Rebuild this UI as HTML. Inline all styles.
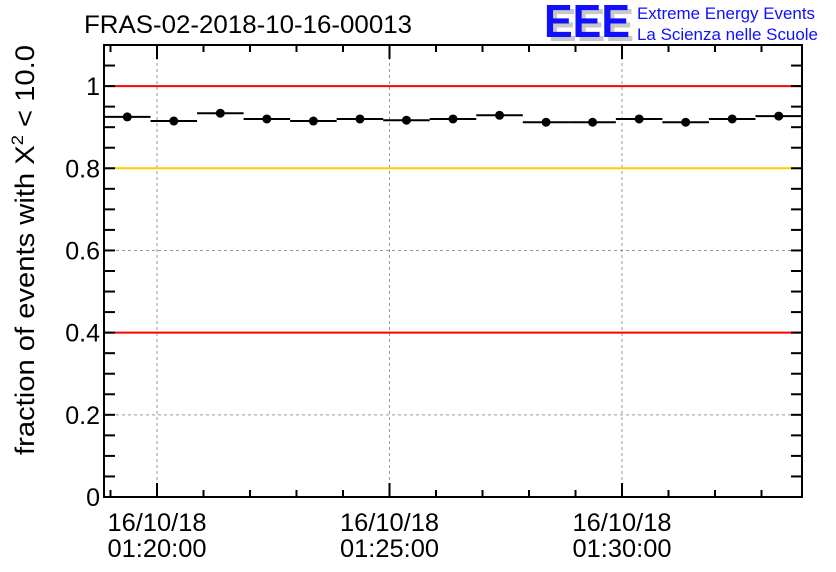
<!DOCTYPE html>
<html><head><meta charset="utf-8"><style>
body{margin:0;background:#fff}
svg{display:block;font-family:"Liberation Sans",sans-serif}
</style></head><body>
<svg id="chart" width="836" height="572" xmlns="http://www.w3.org/2000/svg">
<text x="84" y="33" font-size="25" textLength="328" lengthAdjust="spacingAndGlyphs">FRAS-02-2018-10-16-00013</text>
<g>
<text x="548" y="41" font-size="46" font-weight="bold" fill="#c8c8c8" textLength="86" lengthAdjust="spacingAndGlyphs">EEE</text>
<text x="544" y="37" font-size="46" font-weight="bold" fill="#1010ff" textLength="86" lengthAdjust="spacingAndGlyphs">EEE</text>
<text x="637" y="19" font-size="17" fill="#1010ff" textLength="178" lengthAdjust="spacingAndGlyphs">Extreme Energy Events</text>
<text x="637" y="40" font-size="17" fill="#1010ff" textLength="181" lengthAdjust="spacingAndGlyphs">La Scienza nelle Scuole</text>
</g>
<text transform="translate(34,250) rotate(-90)" text-anchor="middle" font-size="27" textLength="410" lengthAdjust="spacingAndGlyphs">fraction of events with X<tspan font-size="17" dy="-11">2</tspan><tspan dy="11"> &lt; 10.0</tspan></text>
<g id="grid"></g><g id="refs"></g><g id="marks"></g><g id="axes"></g>
</svg>
<script>
const values=[0.925,0.915,0.934,0.92,0.915,0.92,0.917,0.92,0.929,0.912,0.912,0.92,0.912,0.92,0.927];
const refLines=[1.0,0.8,0.4];
const refColors=['#ff0000','#ffcc00','#ff0000'];
const yTicks=[0,0.2,0.4,0.6,0.8,1];
const yTickLabels=['0','0.2','0.4','0.6','0.8','1'];
const xMajorMin=[1,6,11];
const xDateLabels=['16/10/18','16/10/18','16/10/18'];
const xTimeLabels=['01:20:00','01:25:00','01:30:00'];
const L=104,R=802,T=45,B=497,YMAX=1.1;
const pxPerMin=46.5;
function y(v){return B-(v/YMAX)*(B-T);}
const off=(157-L)/pxPerMin;
const NS='http://www.w3.org/2000/svg';
function mk(tag,attrs,parent){const e=document.createElementNS(NS,tag);for(const k in attrs)e.setAttribute(k,attrs[k]);document.getElementById(parent).appendChild(e);return e;}
yTicks.forEach((t,i)=>{if(t>0&&t<1){const g=mk('line',{x1:L,x2:R,y1:y(t),y2:y(t),stroke:'#999','stroke-dasharray':'3,3'},'grid');

}});
xMajorMin.forEach((m,i)=>{const xx=L+(off+(m-1))*pxPerMin;const g=mk('line',{x1:xx,x2:xx,y1:T,y2:B,stroke:'#999','stroke-dasharray':'3,3'},'grid');

});
refLines.forEach((v,i)=>{const l=mk('line',{x1:L,x2:R,y1:y(v),y2:y(v),stroke:refColors[i],'stroke-width':2},'refs');

});
const bw=(R-L)/values.length;
values.forEach((v,i)=>{const x0=L+i*bw;
const h=mk('line',{x1:x0,x2:x0+bw,y1:y(v),y2:y(v),stroke:'#000','stroke-width':2},'marks');


const c=mk('circle',{cx:x0+bw/2,cy:y(v),r:4.5,fill:'#000'},'marks');

});
const f=mk('rect',{x:L,y:T,width:R-L,height:B-T,fill:'none',stroke:'#000','stroke-width':2},'axes');


for(let k=1;k<22;k++){const v=k*0.05;const yy=y(v);
mk('line',{x1:L,x2:L+11,y1:yy,y2:yy,stroke:'#000','stroke-width':2},'axes');
mk('line',{x1:R,x2:R-11,y1:yy,y2:yy,stroke:'#000','stroke-width':2},'axes');}
yTicks.forEach((t,i)=>{const tx=mk('text',{x:L-4,y:y(t)+9,'text-anchor':'end','font-size':25},'axes');tx.textContent=yTickLabels[i];

});
for(let m=0;m<15;m++){const xx=L+(off-1+m)*pxPerMin;if(xx<L+2||xx>R-2)continue;
const major=xMajorMin.includes(m);const len=major?14:7;
mk('line',{x1:xx,x2:xx,y1:B,y2:B-len,stroke:'#000','stroke-width':2},'axes');
mk('line',{x1:xx,x2:xx,y1:T,y2:T+len,stroke:'#000','stroke-width':2},'axes');}
xMajorMin.forEach((m,i)=>{const xx=L+(off+(m-1))*pxPerMin;
const a=mk('text',{x:xx,y:531,'text-anchor':'middle','font-size':25,textLength:99,lengthAdjust:'spacingAndGlyphs'},'axes');a.textContent=xDateLabels[i];


const b=mk('text',{x:xx,y:557,'text-anchor':'middle','font-size':25,textLength:99,lengthAdjust:'spacingAndGlyphs'},'axes');b.textContent=xTimeLabels[i];

});
</script>
</body></html>
